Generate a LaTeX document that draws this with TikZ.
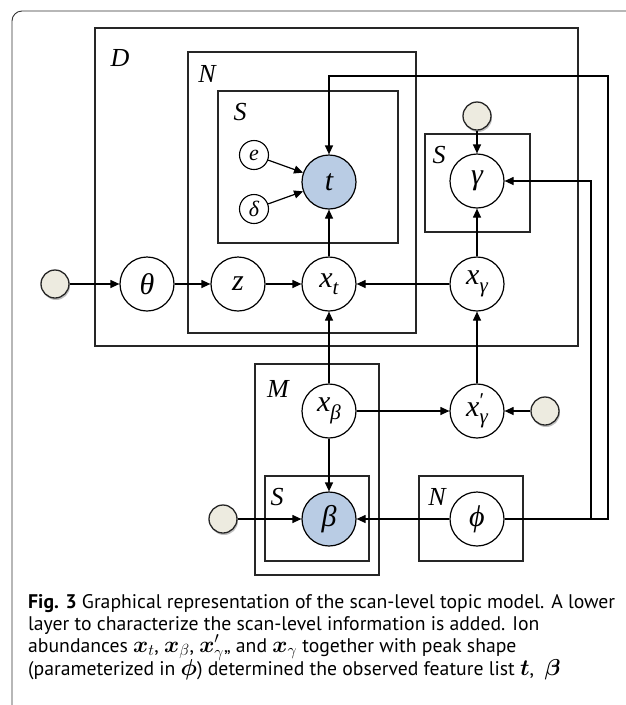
\RequirePackage{fix-cm}
\documentclass[tikz,border=0pt]{standalone}
\usepackage{amsmath,amsbsy}
\usepackage{fontspec}
\setsansfont{PT Sans}
\newfontfamily\lblfont{Liberation Serif}
\usetikzlibrary{arrows.meta,shadows}
\definecolor{obsblue}{HTML}{B9CCE4}
\definecolor{hyper}{HTML}{EDEBE0}
\definecolor{framegrey}{HTML}{333333}
\newcommand{\vsub}[2]{#1\raisebox{-0.25em}{\fontsize{21}{21}\selectfont #2}}
\newcommand{\vsubp}[2]{#1\rlap{\raisebox{0.28em}{\fontsize{21}{21}\selectfont\upshape ′}}\raisebox{-0.25em}{\fontsize{21}{21}\selectfont #2}}
\newcommand{\capm}[1]{{\fontsize{23}{22}\selectfont$#1$}}
\begin{document}
\begin{tikzpicture}[x=1pt,y=-1pt,
  var/.style={circle,draw=black,line width=1.2pt,minimum size=54pt,inner sep=0pt,font=\lblfont\itshape\fontsize{30}{32}\selectfont},
  obs/.style={var,fill=obsblue},
  smallvar/.style={circle,draw=black,line width=1.1pt,minimum size=29pt,inner sep=0pt,font=\lblfont\itshape\fontsize{22}{24}\selectfont},
  hypnode/.style={circle,draw=black!85,line width=1.3pt,fill=hyper,minimum size=28pt,inner sep=0pt,
     drop shadow={shadow xshift=1pt,shadow yshift=-2pt,opacity=0.25,fill=black}},
  plate/.style={draw=black!85,line width=1.3pt},
  platelabel/.style={font=\lblfont\itshape\fontsize{26}{28}\selectfont},
  edge/.style={line width=1.2pt,-{Triangle[length=9pt,width=8pt]}},
  capline/.style={anchor=base west,inner sep=0pt,font=\sffamily\fontsize{19.7}{22}\selectfont}
]
\useasboundingbox (0,0) rectangle (626,705);
% outer frame
\draw[framegrey,line width=0.9pt,rounded corners=10pt] (12,712) -- (12,11) -- (632,11);
% plates
\draw[plate] (95,28) rectangle (578,346);
\draw[plate] (188,52) rectangle (416,333);
\draw[plate] (218,91) rectangle (398,243);
\draw[plate] (425,134) rectangle (530,232);
\draw[plate] (255,364) rectangle (379,575);
\draw[plate] (265,476) rectangle (369,561);
\draw[plate] (419,476) rectangle (523,561);
\node[platelabel] (lD) at (120,58) {D};
\node[platelabel] (lN1) at (207,74) {N};
\node[platelabel] (lS1) at (240,112) {S};
\node[platelabel] (lS2) at (439,155) {S};
\node[platelabel] (lM) at (278,389) {M};
\node[platelabel] (lS3) at (277,497) {S};
\node[platelabel] (lN2) at (437,497) {N};
% nodes
\node[hypnode] (h1) at (55,284) {};
\node[var] (theta) at (147,284) {θ};
\node[var] (z) at (238,284) {z};
\node[var] (xt) at (329,284) {\vsub{x}{t}};
\node[var] (xg) at (477,284) {\vsub{x}{γ}};
\node[obs] (t) at (329,182) {t};
\node[var] (gamma) at (477,181) {γ};
\node[hypnode] (h2) at (477,116) {};
\node[smallvar] (e) at (254,155) {e};
\node[smallvar] (d) at (254,209) {δ};
\node[var] (xb) at (329,411) {\vsub{x}{β}};
\node[var] (xpg) at (477,411) {\vsubp{x}{γ}};
\node[hypnode] (h3) at (545,411) {};
\node[obs] (beta) at (329,519) {β};
\node[var] (phi) at (477,519) {ϕ};
\node[hypnode] (h4) at (223,519) {};
\coordinate (c1) at (608,519);
\coordinate (c2) at (608,76);
\coordinate (c3) at (591,519);
% edges
\draw[edge] (h1) -- (theta);
\draw[edge] (theta) -- (z);
\draw[edge] (z) -- (xt);
\draw[edge] (xg) -- (xt);
\draw[edge] (xt) -- (t);
\draw[edge] (e) -- (t);
\draw[edge] (d) -- (t);
\draw[edge] (h2) -- (gamma);
\draw[edge] (xg) -- (gamma);
\draw[edge] (xb) -- (xt);
\draw[edge] (xpg) -- (xg);
\draw[edge] (xb) -- (xpg);
\draw[edge] (h3) -- (xpg);
\draw[edge] (xb) -- (beta);
\draw[edge] (h4) -- (beta);
\draw[edge] (phi) -- (beta);
\draw[edge] (phi.east) -- (c1) -- (c2) -| (t.north);
\draw[edge] (phi.east) -- (c3) |- (gamma.east);
% caption
\node[capline] (cap1) at (28,608) {\textbf{Fig. 3} Graphical representation of the scan-level topic model. A lower};
\node[capline] (cap2) at (28,630) {layer to characterize the scan-level information is added. Ion};
\node[capline] (cap3) at (28,652) {abundances \capm{\boldsymbol{x}_t}, \capm{\boldsymbol{x}_\beta}, \capm{\boldsymbol{x}'_\gamma},, and \capm{\boldsymbol{x}_\gamma} together with peak shape};
\node[capline] (cap4) at (28,675) {(parameterized in \capm{\boldsymbol{\phi}}) determined the observed feature list \capm{\boldsymbol{t}},\ \ \capm{\boldsymbol{\beta}}};
\end{tikzpicture}
\end{document}
